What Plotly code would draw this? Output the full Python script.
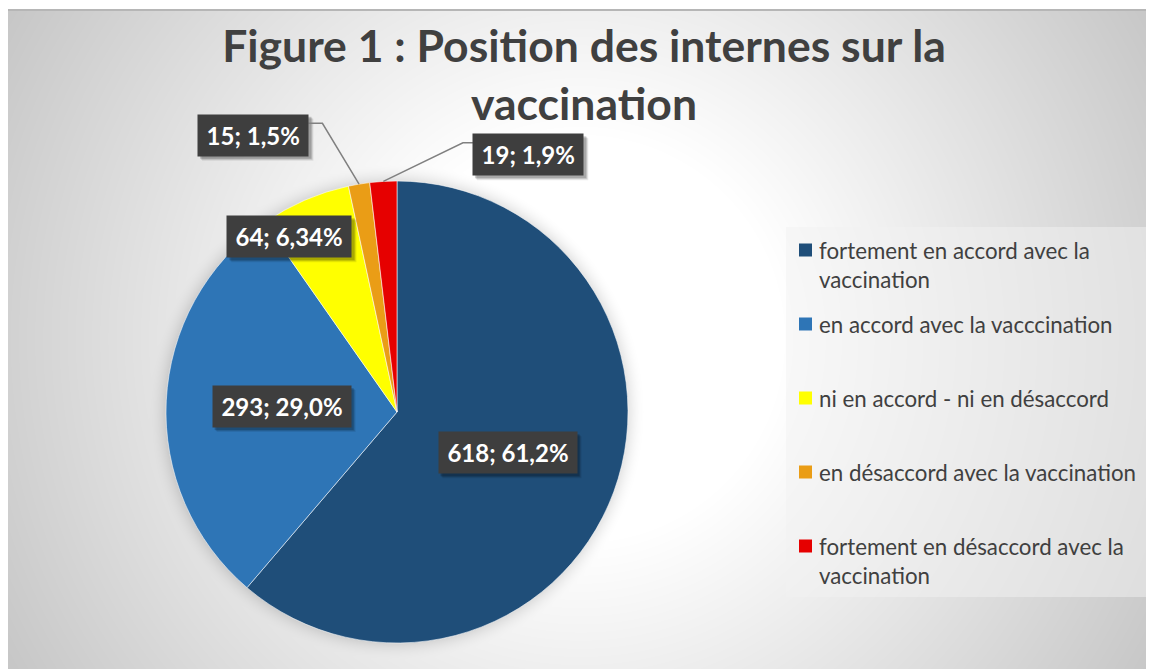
import base64
import math
import struct
import textwrap
import zlib

import numpy as np
import plotly.graph_objects as go

# ---------------- data ----------------
categories = [
    "fortement en accord avec la vaccination",
    "en accord avec la vacccination",
    "ni en accord - ni en désaccord",
    "en désaccord avec la vaccination",
    "fortement en désaccord avec la vaccination",
]
counts = [618, 293, 64, 15, 19]
percent_labels = ["61,2%", "29,0%", "6,34%", "1,5%", "1,9%"]
title_text = "Figure 1 : Position des internes sur la<br>vaccination"

# ---------------- style ----------------
colors = ["#1F4E79", "#2E75B6", "#FFFF00", "#EA9D16", "#E60000"]
TEXT_COLOR = "#404040"
FONT = "Lato"

# page geometry (body margin of the page puts the figure at 8,8)
OFF_X, OFF_Y = 8, 8
W, H = 1146, 661


def fx(sx):
    return (sx - OFF_X) / W


def fy(sy):
    return 1 - (sy - OFF_Y) / H


# pie placement (screen px)
PCX, PCY, PR = 397, 412, 231

# label placement style: (radius factor, angle offset in degrees)
label_place = [(0.51, 0), (0.50, 0), (0.89, -8), (1.35, -18), (1.25, 30.4)]
outside = [False, False, False, True, True]

# ---------------- background image (radial gradient + pie shadow) ----------------
sx = OFF_X + np.arange(W) + 0.5
sy = OFF_Y + np.arange(H) + 0.5
XX, YY = np.meshgrid(sx, sy)
d = np.hypot(XX - 581, YY - 339)
val = 255 - 59 * np.clip((d - 200) / 480, 0, 1)
dp = np.hypot(XX - PCX, YY - PCY) - PR
sh = np.where((dp > -2) & (dp < 18), 26 * (1 - np.clip(dp, 0, 18) / 18) ** 2, 0)
val = val - sh
val[YY < 9] = 255
val[(YY >= 9) & (YY < 11)] = 182
arr = np.clip(np.round(val), 0, 255).astype(np.uint8)


def png_gray(a):
    h, w = a.shape
    sub = a.astype(np.int16)
    filt = np.empty_like(sub)
    filt[:, 0] = sub[:, 0]
    filt[:, 1:] = sub[:, 1:] - sub[:, :-1]
    filt = (filt % 256).astype(np.uint8)
    raw = b"".join(b"\x01" + filt[i].tobytes() for i in range(h))

    def chunk(t, dd):
        c = struct.pack(">I", len(dd)) + t + dd
        return c + struct.pack(">I", zlib.crc32(t + dd) & 0xFFFFFFFF)

    return (
        b"\x89PNG\r\n\x1a\n"
        + chunk(b"IHDR", struct.pack(">IIBBBBB", w, h, 8, 0, 0, 0, 0))
        + chunk(b"IDAT", zlib.compress(raw, 9))
        + chunk(b"IEND", b"")
    )


bg_src = "data:image/png;base64," + base64.b64encode(png_gray(arr)).decode()

# ---------------- figure ----------------
fig = go.Figure()
fig.add_trace(
    go.Pie(
        labels=categories,
        values=counts,
        sort=False,
        direction="clockwise",
        rotation=0,
        marker=dict(colors=colors, line=dict(color="rgba(255,255,255,0.55)", width=1)),
        textinfo="none",
        hoverinfo="label+value+percent",
        showlegend=False,
        domain=dict(x=[fx(PCX - PR), fx(PCX + PR)], y=[fy(PCY + PR), fy(PCY - PR)]),
    )
)

shapes = []
annotations = []

# data labels
total = sum(counts)
cum = 0
for i, (c, p) in enumerate(zip(counts, percent_labels)):
    mid = (cum + c / 2) / total * 360
    cum += c
    rf, dth = label_place[i]
    th = math.radians(mid + dth)
    bx = PCX + rf * PR * math.sin(th)
    by = PCY - rf * PR * math.cos(th)
    txt = f"{c}; {p}"
    bw = 13.8 * len(txt)
    bh = 41
    pad = 4
    x0, x1 = bx - bw / 2, bx + bw / 2
    y0, y1 = by - bh / 2, by + bh / 2
    # soft drop shadow
    for off, alpha in [(5, 0.08), (4, 0.12), (3, 0.18)]:
        shapes.append(
            dict(
                type="rect", xref="paper", yref="paper", layer="above",
                x0=fx(x0 + off - 1), x1=fx(x1 + off), y0=fy(y1 + off), y1=fy(y0 + off - 1),
                fillcolor=f"rgba(0,0,0,{alpha})", line=dict(width=0),
            )
        )
    if outside[i]:
        ma = math.radians(mid)
        ax_ = PCX + PR * math.sin(ma)
        ay_ = PCY - PR * math.cos(ma)
        ly = by - 12
        if bx < ax_:
            ex, lx = x1 + 14, x1
        else:
            ex, lx = x0 - 10, x0
        shapes.append(
            dict(
                type="path", xref="paper", yref="paper", layer="above",
                path=f"M {fx(ax_)} {fy(ay_)} L {fx(ex)} {fy(ly)} L {fx(lx)} {fy(ly)}",
                line=dict(color="#808080", width=1.5),
            )
        )
    annotations.append(
        dict(
            x=fx(bx), y=fy(by), xref="paper", yref="paper",
            xanchor="center", yanchor="middle", showarrow=False,
            text=txt, width=bw - 2 * pad, height=bh - 2 * pad, borderpad=pad,
            bgcolor="#3E3E3E", align="center", valign="middle",
            font=dict(family=FONT, size=24, color="white", weight="bold"),
        )
    )

# legend (manual, to reproduce the wide spacing)
shapes.append(
    dict(
        type="rect", xref="paper", yref="paper", layer="above",
        x0=fx(786), x1=fx(1147), y0=fy(597), y1=fy(227),
        fillcolor="rgba(242,242,242,0.5)", line=dict(width=0),
    )
)
for i, cat in enumerate(categories):
    yc = 250 + 74 * i
    shapes.append(
        dict(
            type="rect", xref="paper", yref="paper", layer="above",
            x0=fx(799), x1=fx(812), y0=fy(yc + 6.5), y1=fy(yc - 6.5),
            fillcolor=colors[i], line=dict(width=0),
        )
    )
    for j, line in enumerate(textwrap.wrap(cat, 33)):
        annotations.append(
            dict(
                x=fx(817), y=fy(yc + 29 * j), xref="paper", yref="paper",
                xanchor="left", yanchor="middle", showarrow=False, text=line,
                font=dict(family=FONT, size=22.3, color=TEXT_COLOR),
            )
        )

fig.update_layout(
    width=W,
    height=H,
    margin=dict(l=0, r=0, t=0, b=0),
    paper_bgcolor="white",
    showlegend=False,
    title=dict(
        text=title_text,
        x=fx(584), xanchor="center",
        y=1 - 54 / H, yanchor="top",
        font=dict(family=FONT, size=44.5, color=TEXT_COLOR, weight="bold"),
    ),
    images=[
        dict(
            source=bg_src, xref="paper", yref="paper", x=0, y=1, sizex=1, sizey=1,
            xanchor="left", yanchor="top", sizing="stretch", layer="below",
        )
    ],
    shapes=shapes,
    annotations=annotations,
)

fig.write_html("out.html")
